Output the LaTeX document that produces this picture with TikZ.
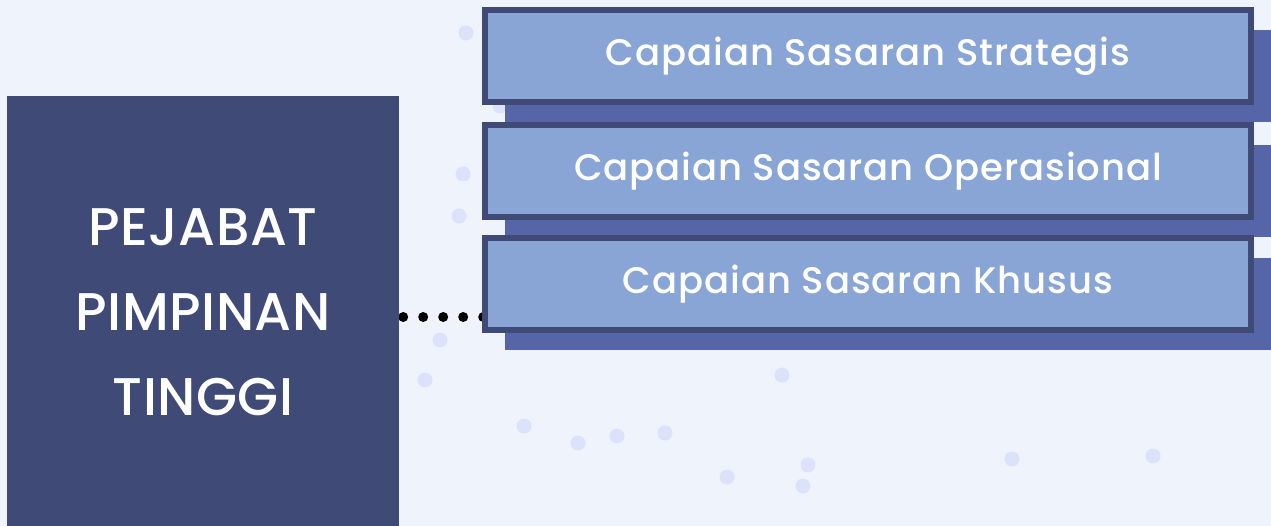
\documentclass[tikz,border=0pt]{standalone}
\usepackage{fontspec}
\newfontfamily\boxfont[LetterSpace=2.5]{Poppins Medium}
\newfontfamily\headfont[LetterSpace=1]{Poppins Medium}
\usetikzlibrary{shadows}
\pgfdeclarelayer{back}
\pgfsetlayers{back,main}
\definecolor{bgc}{HTML}{EFF4FC}
\definecolor{navy}{HTML}{3F4A76}
\definecolor{boxfill}{HTML}{89A5D6}
\definecolor{shadowc}{HTML}{5565A8}
\definecolor{dotc}{HTML}{DBE2F9}
\tikzset{
  bgdot/.style={fill=dotc},
  capbox/.style={draw=navy, line width=6pt, fill=boxfill, minimum width=766pt, minimum height=92pt,
    inner sep=0pt, text=white, font=\boxfont\fontsize{37}{40}\selectfont,
    drop shadow={opacity=1, fill=shadowc, shadow xshift=20pt, shadow yshift=-20pt}},
  headbox/.style={fill=navy, minimum width=392pt, minimum height=432pt, inner sep=0pt,
    text=white, align=center, font=\headfont\fontsize{53}{85}\selectfont},
  dotline/.style={line width=10pt, line cap=round, dash pattern=on 0pt off 20pt, black}
}
\begin{document}
\begin{tikzpicture}[x=1pt,y=-1pt]
\begin{pgfonlayer}{back}
\fill[bgc] (0,0) rectangle (1271,526);
% background dots
\foreach \px/\py in {466/33,500/106,463/174,459/216,440/340,425/380,524/426,578/443,617/436,665/433,782/375,727/477,808/465,803/486,1012/459,1153/456}
  \fill[bgdot] (\px,\py) circle (7.5pt);
\end{pgfonlayer}
\useasboundingbox (0,0) rectangle (1271,526);
% left box
\node[headbox] (L) at (203,312) {PEJABAT\\PIMPINAN\\TINGGI};
% right boxes
\node[capbox] (A) at (868,56) {Capaian Sasaran Strategis};
\node[capbox] (B) at (868,171) {Capaian Sasaran Operasional};
\node[capbox] (C) at (868,284.5) {Capaian Sasaran Khusus};
% dotted connector (behind the boxes)
\coordinate (s) at ([xshift=4pt]L.east |- 0,317);
\begin{pgfonlayer}{back}
\draw[dotline] (s) -- ([xshift=3pt]s -| C.west);
\end{pgfonlayer}
\end{tikzpicture}
\end{document}
